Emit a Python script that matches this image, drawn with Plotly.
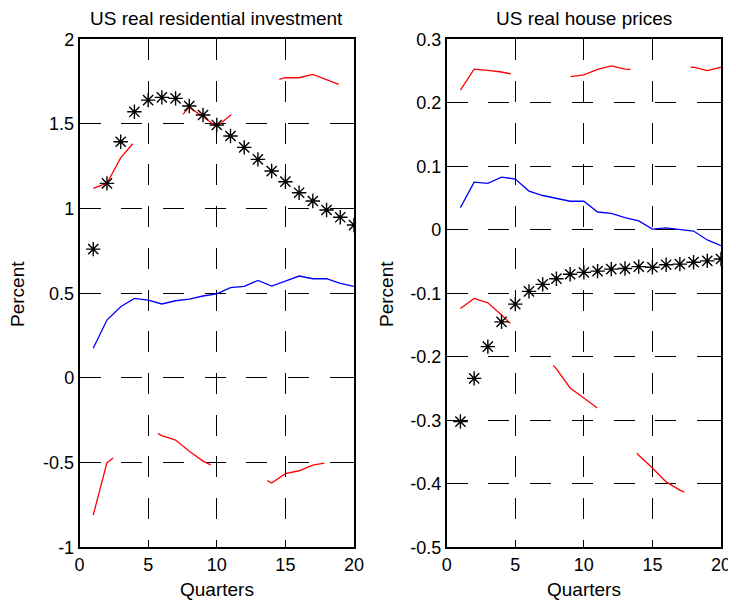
import plotly.graph_objects as go

# ---------------- data ----------------
quarters = list(range(1, 21))

inv_point = [0.761, 1.149, 1.395, 1.572, 1.641, 1.657, 1.651, 1.606, 1.553, 1.494,
             1.429, 1.362, 1.291, 1.222, 1.159, 1.094, 1.045, 0.992, 0.949, 0.903]
inv_median = [0.175, 0.342, 0.421, 0.470, 0.460, 0.437, 0.456, 0.466, 0.484, 0.497,
              0.533, 0.541, 0.576, 0.543, 0.572, 0.602, 0.586, 0.586, 0.559, 0.541]
inv_upper = [1.12, 1.15, 1.30, 1.395, 1.45, 1.50, 1.51, 1.598, 1.543, 1.484,
             1.552, 1.62, 1.68, 1.75, 1.773, 1.773, 1.793, 1.76, 1.73, 1.80]
inv_lower = [-0.81, -0.50, -0.44, -0.43, -0.30, -0.34, -0.367, -0.433, -0.491, -0.53,
             -0.56, -0.58, -0.575, -0.62, -0.565, -0.548, -0.515, -0.50, -0.48, -0.46]

hp_point = [-0.302, -0.234, -0.184, -0.145, -0.117, -0.097, -0.086, -0.077, -0.070, -0.067,
            -0.065, -0.062, -0.061, -0.058, -0.059, -0.055, -0.054, -0.051, -0.049, -0.046]
hp_median = [0.035, 0.075, 0.073, 0.083, 0.080, 0.061, 0.054, 0.050, 0.045, 0.045,
             0.028, 0.026, 0.019, 0.014, 0.001, 0.003, 0.000, -0.002, -0.016, -0.025]
hp_upper = [0.220, 0.253, 0.251, 0.2485, 0.244, 0.243, 0.242, 0.241, 0.241, 0.244,
            0.2527, 0.258, 0.253, 0.252, 0.253, 0.254, 0.255, 0.256, 0.2506, 0.256]
hp_lower = [-0.124, -0.108, -0.115, -0.134, -0.155, -0.175, -0.195, -0.219, -0.249, -0.265,
            -0.281, -0.305, -0.33, -0.355, -0.375, -0.397, -0.41, -0.42, -0.43, -0.44]

x_ticks = [0, 5, 10, 15, 20]
x_ticklabels = ["0", "5", "10", "15", "20"]
inv_yticks = [-1, -0.5, 0, 0.5, 1, 1.5, 2]
inv_yticklabels = ["-1", "-0.5", "0", "0.5", "1", "1.5", "2"]
hp_yticks = [-0.5, -0.4, -0.3, -0.2, -0.1, 0, 0.1, 0.2, 0.3]
hp_yticklabels = ["-0.5", "-0.4", "-0.3", "-0.2", "-0.1", "0", "0.1", "0.2", "0.3"]

titles = ["US real residential investment", "US real house prices"]
xlabel = "Quarters"
ylabel = "Percent"

# ---------------- figure ----------------
FONT = "Liberation Sans, Arial, sans-serif"
OFF = 8                      # page body margin in the browser
W, H = 736 - OFF, 604 - OFF  # figure size so that it fits the window


def fx(px):
    return (px - OFF) / W


def fy(py):
    return 1 - (py - OFF) / H


fig = go.Figure()

band_line = dict(color="rgb(255,0,0)", width=1.3, dash="62px,60px")
med_line = dict(color="rgb(0,0,255)", width=1.3)
star = dict(symbol="asterisk-open", size=12, color="black",
            line=dict(color="black", width=1.4))

for xa, ya, up, lo, med, pt in [("x", "y", inv_upper, inv_lower, inv_median, inv_point),
                                ("x2", "y2", hp_upper, hp_lower, hp_median, hp_point)]:
    fig.add_trace(go.Scatter(x=quarters, y=up, mode="lines", line=band_line,
                             xaxis=xa, yaxis=ya, showlegend=False))
    fig.add_trace(go.Scatter(x=quarters, y=lo, mode="lines", line=band_line,
                             xaxis=xa, yaxis=ya, showlegend=False))
    fig.add_trace(go.Scatter(x=quarters, y=med, mode="lines", line=med_line,
                             xaxis=xa, yaxis=ya, showlegend=False))
    fig.add_trace(go.Scatter(x=quarters, y=pt, mode="markers", marker=star,
                             xaxis=xa, yaxis=ya, showlegend=False))

ydom = [fy(547.3), fy(39.3)]
xdom1 = [fx(79.5), fx(354.0)]
xdom2 = [fx(446.7), fx(721.0)]

common = dict(showline=True, linecolor="black", linewidth=1.5, mirror="allticks",
              ticks="inside", ticklen=5, tickcolor="black", tickwidth=1,
              showgrid=True, gridcolor="black", gridwidth=1, griddash="21px,20.7px",
              zeroline=False, automargin=False,
              tickfont=dict(family=FONT, size=18, color="black"))

fig.update_layout(
    width=W, height=H, margin=dict(l=0, r=0, t=0, b=0, autoexpand=False),
    paper_bgcolor="white", plot_bgcolor="white", showlegend=False,
    xaxis=dict(domain=xdom1, anchor="y", range=[0, 20], tickvals=x_ticks,
               ticktext=x_ticklabels, **common),
    yaxis=dict(domain=ydom, anchor="x", range=[-1, 2], tickvals=inv_yticks,
               ticktext=inv_yticklabels, **common),
    xaxis2=dict(domain=xdom2, anchor="y2", range=[0, 20], tickvals=x_ticks,
                ticktext=x_ticklabels, **common),
    yaxis2=dict(domain=ydom, anchor="x2", range=[-0.5, 0.3], tickvals=hp_yticks,
                ticktext=hp_yticklabels, **common),
)

ann_font = dict(family=FONT, size=19, color="black")
for dom, t in [(xdom1, titles[0]), (xdom2, titles[1])]:
    cx = (dom[0] + dom[1]) / 2
    fig.add_annotation(text=t, x=cx, y=fy(18), xref="paper", yref="paper",
                       xanchor="center", yanchor="middle", showarrow=False,
                       borderpad=0, font=ann_font)
    fig.add_annotation(text=xlabel, x=cx, y=fy(589), xref="paper", yref="paper",
                       xanchor="center", yanchor="middle", showarrow=False,
                       borderpad=0, font=ann_font)

for px in [18, 387]:
    fig.add_annotation(text=ylabel, x=fx(px), y=fy(294), xref="paper", yref="paper",
                       xanchor="center", yanchor="middle", showarrow=False,
                       textangle=-90, borderpad=0, font=ann_font)

fig.write_html("out.html")
